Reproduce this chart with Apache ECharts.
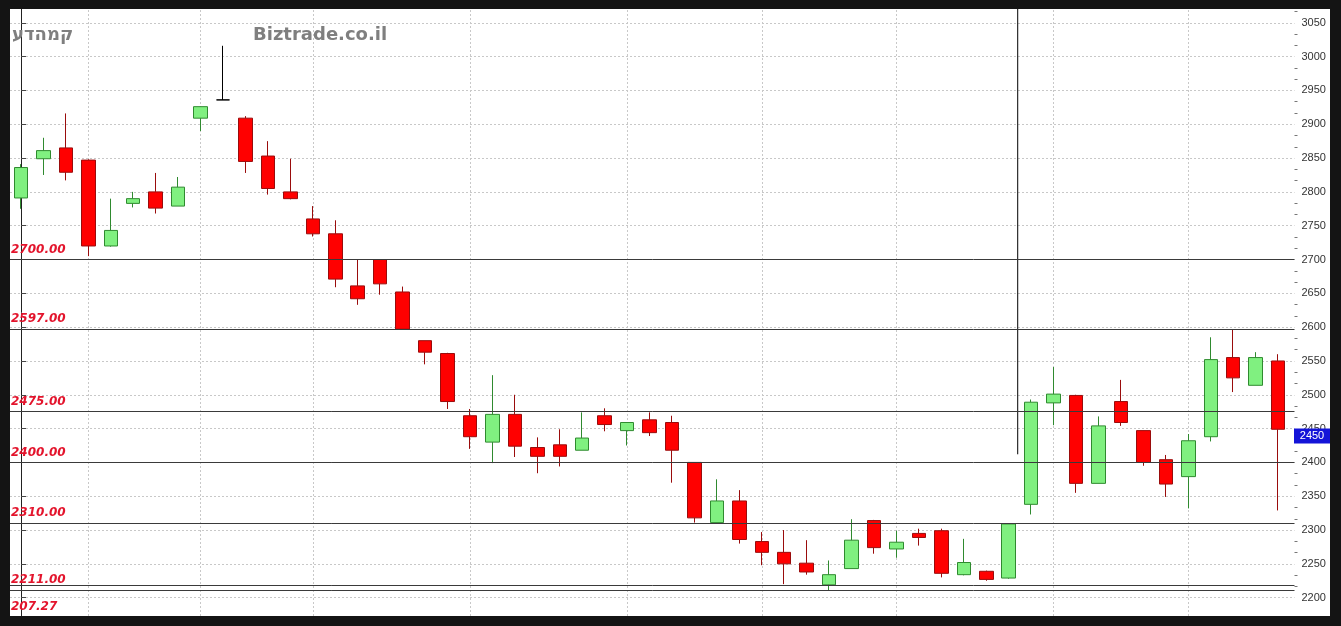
<!DOCTYPE html>
<html><head><meta charset="utf-8">
<script src="https://cdn.jsdelivr.net/npm/echarts@6/dist/echarts.min.js"></script>
<style>html,body{margin:0;padding:0;background:#141414}#c{width:1341px;height:626px}</style>
</head><body><div id="c"></div>
<script>
// ---- data ----
const opens  = [2791,2849,2865,2847,2720,2783,2800,2779,2909,2936,2909,2853,2800,2760,2738,2661,2700,2652,2580,2561,2469,2430,2471,2422,2426,2418,2469,2447,2463,2459,2400,2311,2343,2283,2267,2251,2219,2243,2314,2272,2295,2299,2234,2239,2229,2338,2488,2499,2369,2490,2447,2404,2379,2438,2555,2514,2550];
const closes = [2836,2861,2829,2720,2743,2790,2776,2807,2926,2936,2845,2805,2790,2738,2671,2642,2664,2597,2563,2490,2438,2471,2424,2409,2409,2436,2456,2459,2444,2418,2318,2343,2286,2267,2250,2238,2234,2285,2274,2282,2289,2236,2252,2227,2309,2489,2501,2369,2454,2459,2400,2368,2432,2552,2525,2555,2449];
const lows   = [2775,2825,2817,2705,2719,2777,2768,2779,2890,2936,2828,2796,2789,2734,2659,2633,2648,2597,2545,2479,2420,2399,2408,2384,2394,2418,2446,2425,2439,2370,2311,2311,2280,2248,2220,2234,2210,2243,2265,2259,2277,2230,2233,2225,2228,2323,2455,2355,2369,2454,2395,2349,2332,2431,2504,2514,2329];
const highs  = [2841,2880,2916,2848,2790,2800,2828,2822,2926,3016,2912,2875,2849,2779,2758,2700,2700,2660,2580,2562,2479,2529,2500,2437,2449,2474,2480,2459,2474,2469,2400,2375,2359,2297,2300,2285,2255,2316,2315,2299,2302,2302,2287,2240,2310,2493,2541,2500,2468,2522,2447,2411,2442,2585,2596,2563,2560];
const dojiIndex = 9;

const yTicks = [2200,2250,2300,2350,2400,2450,2500,2550,2600,2650,2700,2750,2800,2850,2900,2950,3000,3050];
const levels = [2700, 2597, 2475, 2400, 2310, 2211];
const levelLabels = ['2700.00','2597.00','2475.00','2400.00','2310.00','2211.00'];
const extraLevels = [2218.4];
const bottomLevelValue = 2171.3;
const bottomLevelLabel = '207.27';
const monthStarts = [0,3,8,13,20,27,33,39,46,52];
const eventX = 44.4;
const eventLow = 2412;
const lastPrice = 2450;
const titleText = 'Biztrade.co.il';
const nameText = 'קמהדע';

// ---- layout ----
const Y_MIN = 2172.9, Y_MAX = 3070.4;
const minorTicks = [];
yTicks.forEach(t => { minorTicks.push(t + 50/3, t + 100/3); });

const candleData = opens.map((o, i) => {
  const item = { value: [i, o, closes[i], lows[i], highs[i]] };
  if (i === dojiIndex) item.itemStyle = { color: '#000', color0: '#000', borderColor: '#000', borderColor0: '#000', borderColorDoji: '#000' };
  return item;
});

const gridLineStyle = { color: '#c8c8c8', type: [2, 2], width: 1 };
const levelStyle = { color: '#3a3a3a', type: 'solid', width: 1 };
const labelFont = { color: '#e3142c', fontStyle: 'italic', fontWeight: 'bold', fontSize: 12, fontFamily: 'DejaVu Sans' };

const chart = echarts.init(document.getElementById('c'), null, { renderer: 'canvas' });

const option = {
  backgroundColor: '#ffffff',
  animation: false,
  grid: { left: 10, right: 46.5, top: 9, bottom: 10, containLabel: false },
  xAxis: [{
    type: 'value', min: -0.49, max: 56.73, show: false,
    splitLine: { show: false }
  }],
  yAxis: [{
    type: 'value', position: 'right', min: Y_MIN, max: Y_MAX,
    axisLine: { show: true, lineStyle: { color: '#222', width: 1 } },
    axisTick: { show: true, customValues: yTicks, length: 5, lineStyle: { color: '#444' } },
    axisLabel: { customValues: yTicks, color: '#333', fontSize: 11, fontFamily: 'Liberation Sans', margin: 7, formatter: v => String(Math.round(v)) },
    splitLine: { show: false }
  }, {
    type: 'value', position: 'right', min: Y_MIN, max: Y_MAX,
    axisLine: { show: false },
    axisTick: { show: true, customValues: minorTicks, length: 3, lineStyle: { color: '#777' } },
    axisLabel: { show: false },
    splitLine: { show: false }
  }],
  series: [
    {
      type: 'line', data: [], z: 0, silent: true,
      markLine: {
        silent: true, symbol: ['none', 'none'], z: 0, animation: false,
        label: { show: false },
        lineStyle: gridLineStyle,
        data: yTicks.map(v => ({ yAxis: v })).concat(monthStarts.map(v => ({ xAxis: v })))
      }
    },
    {
      type: 'candlestick',
      encode: { x: 0, y: [1, 2, 3, 4] },
      data: candleData,
      barWidth: 14,
      z: 2,
      itemStyle: {
        color: '#80f080', color0: '#ff0000',
        borderColor: '#2f8a2f', borderColor0: '#9a0c0c', borderWidth: 1
      },
      markLine: {
        silent: true, symbol: ['none', 'none'], z: 6, animation: false,
        lineStyle: levelStyle,
        label: Object.assign({ show: true, position: 'insideStartTop', distance: [1, 4] }, labelFont),
        data: levels.map((v, i) => ({ yAxis: v, label: { formatter: levelLabels[i] } }))
          .concat(extraLevels.map(v => ({ yAxis: v, label: { show: false } })))
      }
    },
    {
      type: 'line', z: 5, silent: true, symbol: 'none',
      lineStyle: { color: '#000', width: 1 },
      data: [[eventX, eventLow], [eventX, Y_MAX]]
    }
  ]
};
chart.setOption(option);

const tagY = chart.convertToPixel({ yAxisIndex: 0 }, lastPrice);
const botY = chart.convertToPixel({ yAxisIndex: 0 }, bottomLevelValue);
chart.setOption({
  graphic: [
    { type: 'rect', z: 100, shape: { x: 0, y: 0, width: 1341, height: 9 }, style: { fill: '#141414' } },
    { type: 'rect', z: 100, shape: { x: 0, y: 616, width: 1341, height: 10 }, style: { fill: '#141414' } },
    { type: 'rect', z: 100, shape: { x: 0, y: 0, width: 10, height: 626 }, style: { fill: '#141414' } },
    { type: 'rect', z: 100, shape: { x: 1330, y: 0, width: 11, height: 626 }, style: { fill: '#141414' } },
    { type: 'text', z: 50, x: 253, y: 26, style: { text: titleText, fill: '#7f7f7f', font: 'bold 18px "DejaVu Sans"' } },
    { type: 'text', z: 50, x: 12, y: 26, style: { text: nameText, fill: '#7f7f7f', font: 'bold 18px "DejaVu Sans"' } },
    { type: 'text', z: 50, x: 11, y: botY - 4, style: { text: bottomLevelLabel, fill: '#e3142c', font: 'italic bold 12px "DejaVu Sans"', textVerticalAlign: 'bottom' } },
    { type: 'rect', z: 100, shape: { x: 1294, y: tagY, width: 36, height: 15 }, style: { fill: '#1414d8' } },
    { type: 'text', z: 101, x: 1312, y: tagY + 7.5, style: { text: String(lastPrice), fill: '#fff', font: '11px "Liberation Sans"', textAlign: 'center', textVerticalAlign: 'middle' } }
  ]
});
</script>
</body></html>
